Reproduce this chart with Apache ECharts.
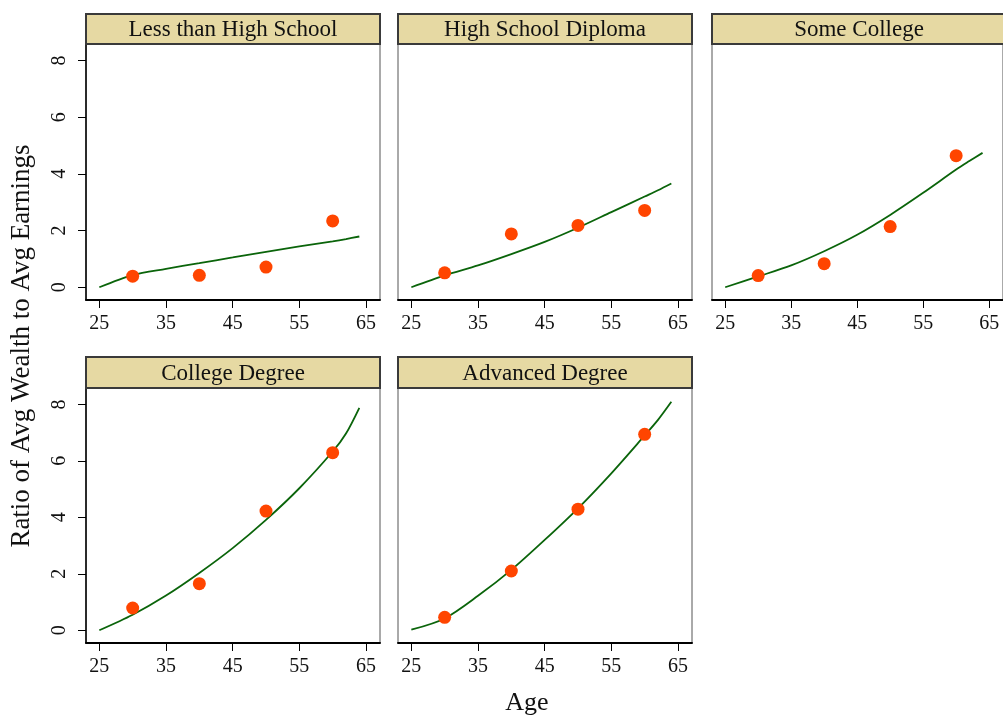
<!DOCTYPE html>
<html>
<head>
<meta charset="utf-8">
<script src="https://cdn.jsdelivr.net/npm/echarts@6/dist/echarts.min.js"></script>
<style>html,body{margin:0;padding:0;background:#fff}#c{width:1003px;height:717px}</style>
</head>
<body>
<div id="c"></div>
<script>
// ---- data ----
var panelTitles = ["Less than High School", "High School Diploma", "Some College", "College Degree", "Advanced Degree"];
var pointAges = [30, 40, 50, 60];
var ptsLessHS   = [0.39, 0.42, 0.71, 2.34];
var ptsHSDip    = [0.51, 1.88, 2.18, 2.71];
var ptsSomeCol  = [0.41, 0.83, 2.14, 4.64];
var ptsColDeg   = [0.79, 1.65, 4.22, 6.29];
var ptsAdvDeg   = [0.46, 2.10, 4.29, 6.94];
var lineAges = [25, 30, 35, 40, 45, 50, 55, 60, 62, 64];
var lineLessHS  = [0.00, 0.43, 0.65, 0.85, 1.05, 1.25, 1.44, 1.62, 1.70, 1.79];
var lineHSDip   = [0.00, 0.42, 0.77, 1.17, 1.60, 2.10, 2.65, 3.20, 3.42, 3.66];
var lineSomeCol = [0.00, 0.38, 0.77, 1.27, 1.85, 2.55, 3.33, 4.15, 4.45, 4.74];
var lineColDeg  = [0.00, 0.55, 1.23, 2.03, 2.91, 3.91, 5.03, 6.33, 6.97, 7.88];
var lineAdvDeg  = [0.02, 0.42, 1.22, 2.14, 3.20, 4.32, 5.56, 6.90, 7.45, 8.09];
var xTicks = [25, 35, 45, 55, 65];
var yTicks = [0, 2, 4, 6, 8];
var yTitle = "Ratio of Avg Wealth to Avg Earnings";
var xTitle = "Age";

var allPts = [ptsLessHS, ptsHSDip, ptsSomeCol, ptsColDeg, ptsAdvDeg];
var allLines = [lineLessHS, lineHSDip, lineSomeCol, lineColDeg, lineAdvDeg];

// ---- layout ----
var FONT = "'Liberation Serif', 'Times New Roman', serif";
var colLeft = [86, 398, 712];
var rowTop = [44, 388];
var headH = [30, 31];
var gw = 294, gh = [256, 255];
var grids = [], xAxes = [], yAxes = [], series = [], graphics = [];

for (var i = 0; i < 5; i++) {
  var r = i < 3 ? 0 : 1, c = i < 3 ? i : i - 3;
  var firstCol = c === 0;
  grids.push({left: colLeft[c], top: rowTop[r], width: gw, height: gh[r], show: true,
    borderColor: '#555', borderWidth: 1, backgroundColor: '#fff', containLabel: false});
  xAxes.push({type: 'value', gridIndex: i, min: 23, max: 67.1,
    axisLine: {show: true, onZero: false, lineStyle: {color: '#000', width: 2}},
    axisTick: {show: true, length: 8, lineStyle: {color: '#000', width: 1}, customValues: xTicks},
    axisLabel: {show: true, margin: 14, fontFamily: FONT, fontSize: 20, color: '#111', customValues: xTicks},
    splitLine: {show: false}});
  yAxes.push({type: 'value', gridIndex: i, min: -0.45, max: 8.58,
    axisLine: {show: firstCol, lineStyle: {color: '#000', width: 1.5}},
    axisTick: {show: firstCol, length: 8, lineStyle: {color: '#000', width: 1}, customValues: yTicks},
    axisLabel: {show: firstCol, rotate: 90, margin: 16, fontFamily: FONT, fontSize: 20, color: '#111', customValues: yTicks},
    splitLine: {show: false}});
  var ld = lineAges.map(function (a, k) { return [a, allLines[i][k]]; });
  var pd = pointAges.map(function (a, k) { return [a, allPts[i][k]]; });
  series.push({type: 'line', xAxisIndex: i, yAxisIndex: i, data: ld, smooth: 0.3, showSymbol: false,
    lineStyle: {color: '#0a640a', width: 1.8}, silent: true, z: 2});
  series.push({type: 'scatter', xAxisIndex: i, yAxisIndex: i, data: pd, symbolSize: 13,
    itemStyle: {color: '#ff4500', opacity: 1}, silent: true, z: 3});
  graphics.push({type: 'rect', shape: {x: colLeft[c], y: rowTop[r] - headH[r], width: gw, height: headH[r]},
    style: {fill: '#e6d9a3', stroke: '#3a3a3a', lineWidth: 2}, z: 10});
  graphics.push({type: 'text', x: colLeft[c] + gw / 2, y: rowTop[r] - headH[r] / 2 + 1,
    style: {text: panelTitles[i], font: '23px ' + FONT, fill: '#111', textAlign: 'center', textVerticalAlign: 'middle'}, z: 11});
}
graphics.push({type: 'text', x: 22, y: 346, rotation: Math.PI / 2,
  style: {text: yTitle, font: '27px ' + FONT, fill: '#111', textAlign: 'center', textVerticalAlign: 'middle'}});
graphics.push({type: 'text', x: 527, y: 703,
  style: {text: xTitle, font: '26px ' + FONT, fill: '#111', textAlign: 'center', textVerticalAlign: 'middle'}});

var chart = echarts.init(document.getElementById('c'), null, {renderer: 'canvas'});
chart.setOption({animation: false, backgroundColor: '#fff', grid: grids, xAxis: xAxes, yAxis: yAxes, series: series, graphic: graphics});
</script>
</body>
</html>
